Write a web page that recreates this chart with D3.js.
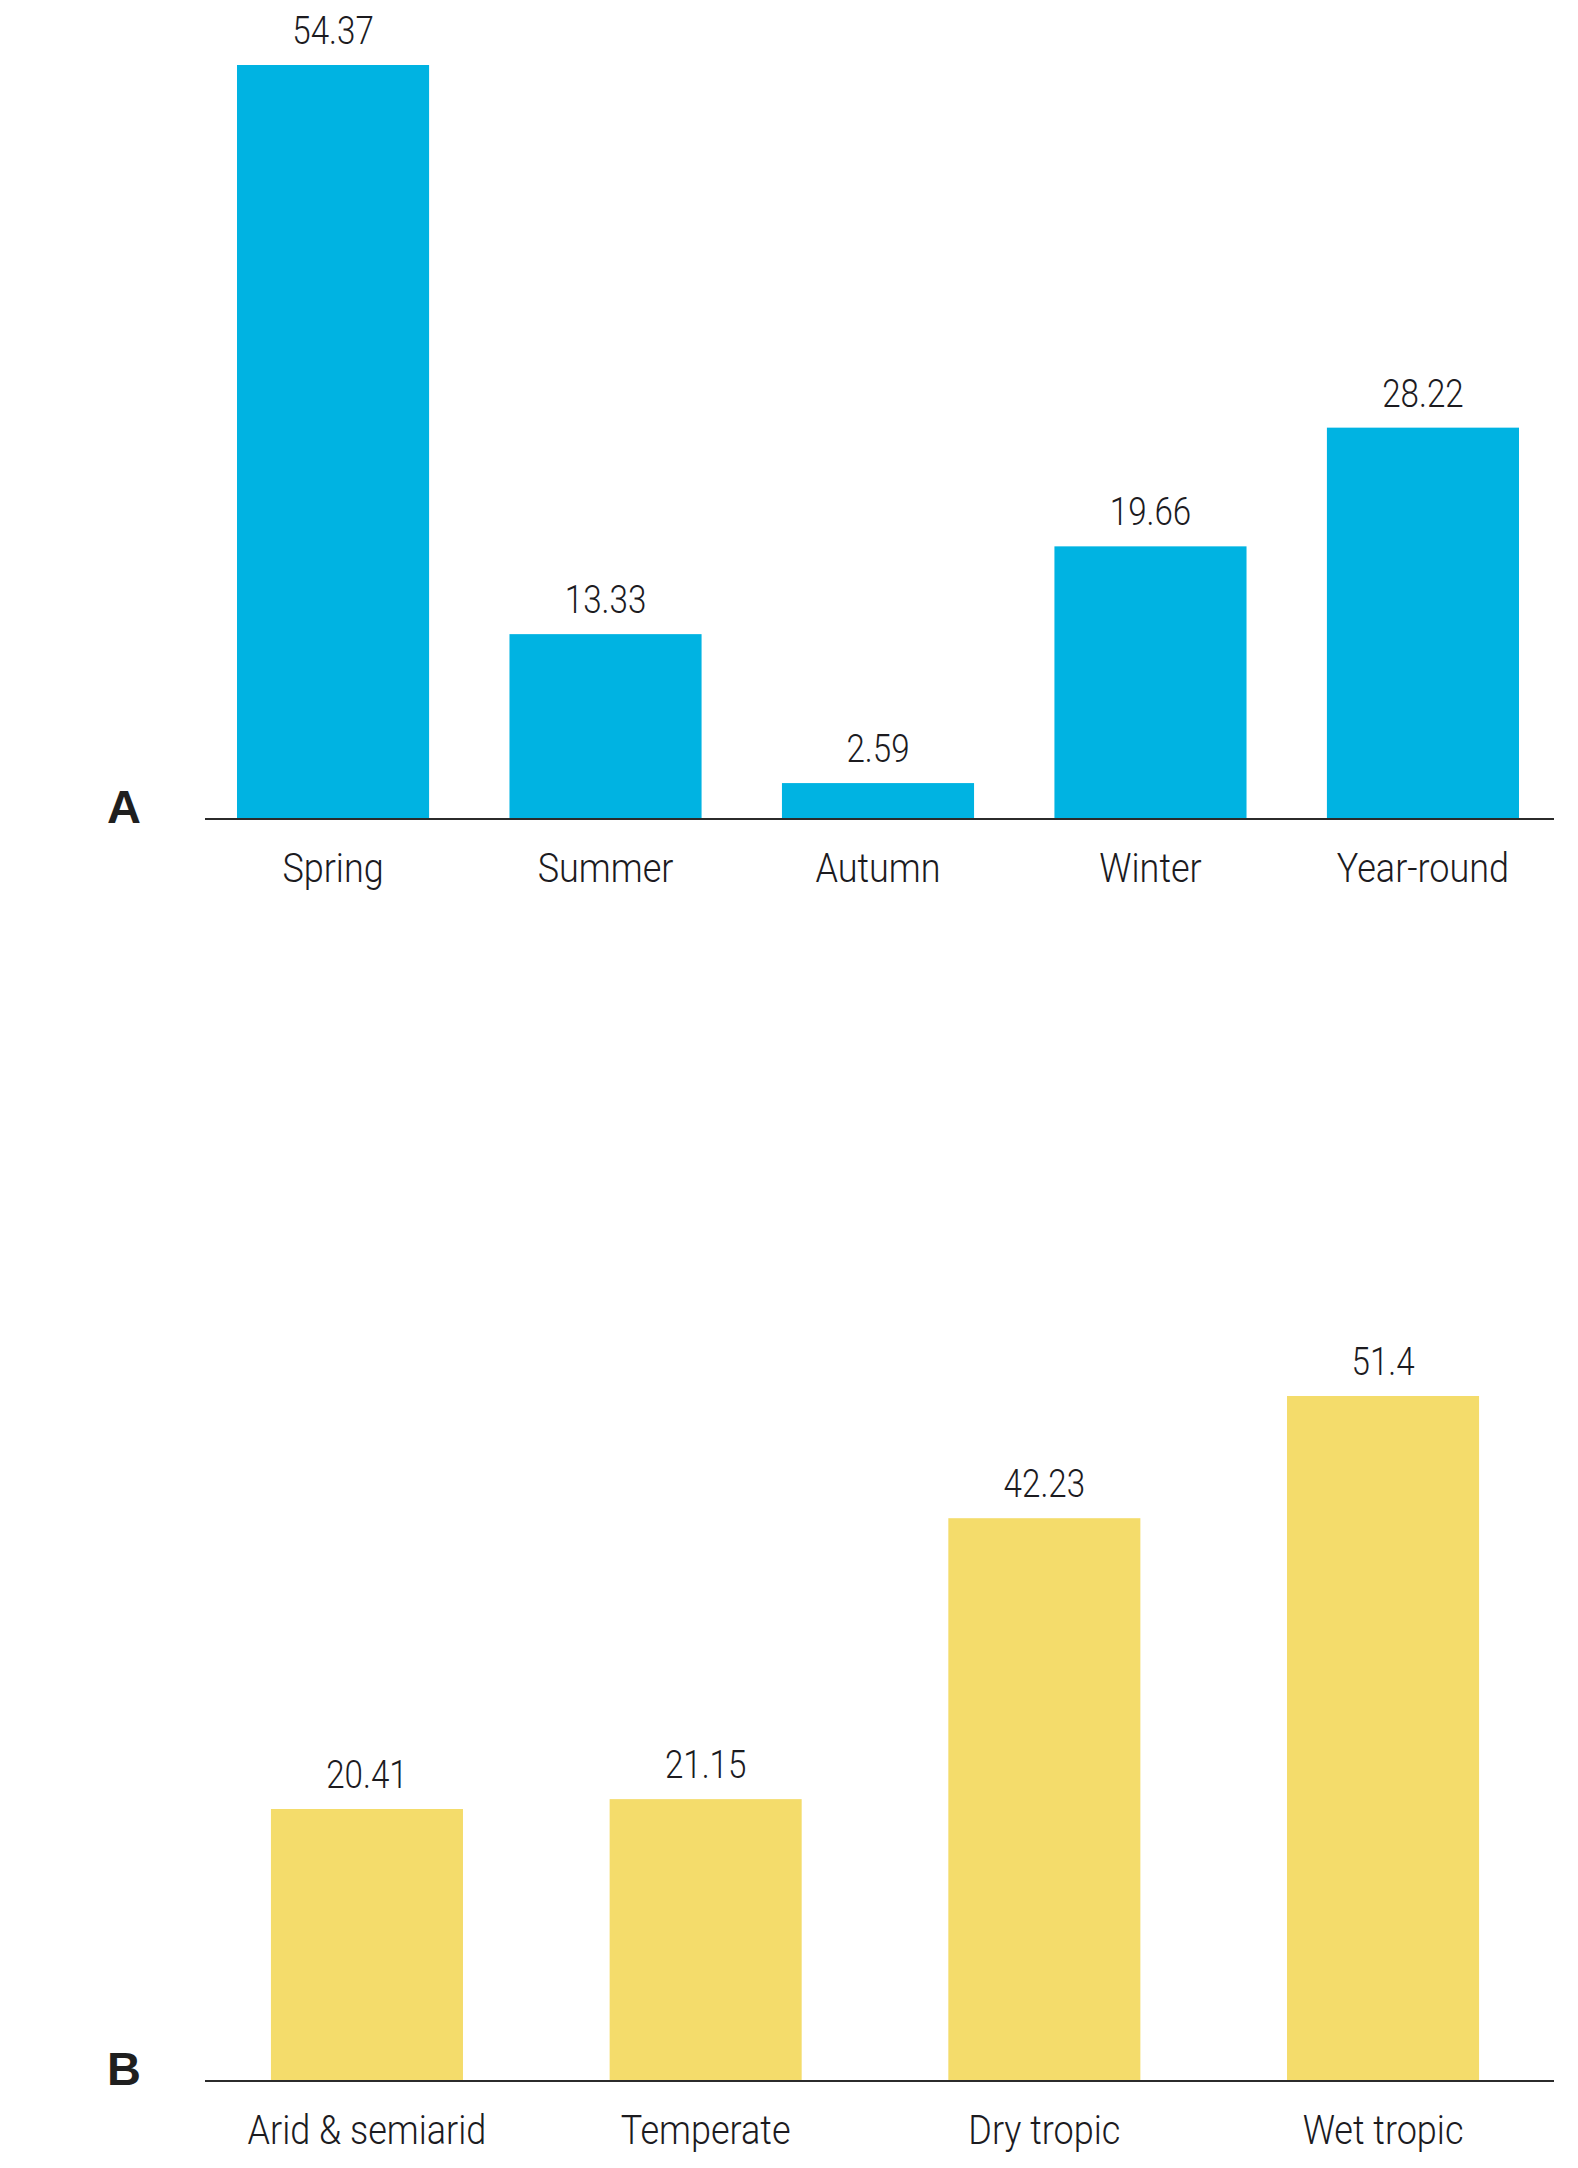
<!DOCTYPE html>
<html>
<head>
<meta charset="utf-8">
<script src="https://cdn.jsdelivr.net/npm/d3@7"></script>
<style>
  html, body { margin: 0; padding: 0; background: #ffffff; }
  svg { display: block; }
</style>
</head>
<body>
<div id="chart"></div>
<script>
// ---- Data ----
const seasonCategories = ["Spring", "Summer", "Autumn", "Winter", "Year-round"];
const seasonValues = [54.37, 13.33, 2.59, 19.66, 28.22];
const seasonLabels = ["54.37", "13.33", "2.59", "19.66", "28.22"];

const climateCategories = ["Arid & semiarid", "Temperate", "Dry tropic", "Wet tropic"];
const climateValues = [20.41, 21.15, 42.23, 51.4];
const climateLabels = ["20.41", "21.15", "42.23", "51.4"];

const panelLetters = ["A", "B"];

// ---- Layout ----
const W = 1578, H = 2168;
const textFont = "Roboto, 'Open Sans', sans-serif";
const textColor = "#1c1b1f";
const squeezeVal = 0.85;
const squeezeCat = 0.9;

const svg = d3.select("#chart").append("svg")
  .attr("width", W).attr("height", H)
  .attr("viewBox", `0 0 ${W} ${H}`);

svg.append("rect").attr("width", W).attr("height", H).attr("fill", "#ffffff");

function panel(cfg) {
  const g = svg.append("g");
  const x = d3.scaleBand()
    .domain(cfg.categories)
    .range(cfg.xRange)
    .paddingInner(cfg.padInner)
    .paddingOuter(cfg.padOuter);
  const y = d3.scaleLinear()
    .domain([0, cfg.yMax])
    .range([cfg.baseline, cfg.top]);

  const data = cfg.categories.map((c, i) => ({ c, v: cfg.values[i], lab: cfg.labels[i] }));

  g.selectAll("rect.bar").data(data).join("rect")
    .attr("class", "bar")
    .attr("x", d => x(d.c))
    .attr("width", x.bandwidth())
    .attr("y", d => y(d.v))
    .attr("height", d => y(0) - y(d.v))
    .attr("fill", cfg.color);

  // axis line
  g.append("line")
    .attr("x1", cfg.axisX[0]).attr("x2", cfg.axisX[1])
    .attr("y1", y(0)).attr("y2", y(0))
    .attr("stroke", "#2b2b2b").attr("stroke-width", 2.2);

  // value labels
  g.selectAll("g.val").data(data).join("g")
    .attr("class", "val")
    .attr("transform", d => `translate(${x(d.c) + x.bandwidth() / 2},${y(d.v) - 21}) scale(${squeezeVal},1)`)
    .append("text")
    .attr("text-anchor", "middle")
    .attr("font-family", textFont)
    .attr("font-weight", 300)
    .attr("font-size", 39)
    .attr("fill", textColor)
    .text(d => d.lab);

  // category labels
  g.selectAll("g.cat").data(data).join("g")
    .attr("class", "cat")
    .attr("transform", d => `translate(${x(d.c) + x.bandwidth() / 2},${y(0) + 63}) scale(${squeezeCat},1)`)
    .append("text")
    .attr("text-anchor", "middle")
    .attr("font-family", textFont)
    .attr("font-weight", 300)
    .attr("font-size", 40)
    .attr("fill", textColor)
    .text(d => d.c);

  // panel letter
  g.append("text")
    .attr("x", 107)
    .attr("y", y(0) + 4)
    .attr("font-family", "'Liberation Sans', Arial, sans-serif")
    .attr("font-weight", 700)
    .attr("font-size", 47)
    .attr("fill", "#1f1f1f")
    .text(cfg.letter);
}

panel({
  categories: seasonCategories,
  values: seasonValues,
  labels: seasonLabels,
  letter: panelLetters[0],
  color: "#00b3e2",
  xRange: [196.8, 1559.2],
  padInner: 0.295,
  padOuter: 0.1475,
  axisX: [205, 1554],
  baseline: 819,
  top: 65,
  yMax: 54.37
});

panel({
  categories: climateCategories,
  values: climateValues,
  labels: climateLabels,
  letter: panelLetters[1],
  color: "#f4dc6b",
  xRange: [197.6, 1552.4],
  padInner: 0.433,
  padOuter: 0.2165,
  axisX: [205, 1554],
  baseline: 2081,
  top: 1396,
  yMax: 51.4
});
</script>
</body>
</html>
